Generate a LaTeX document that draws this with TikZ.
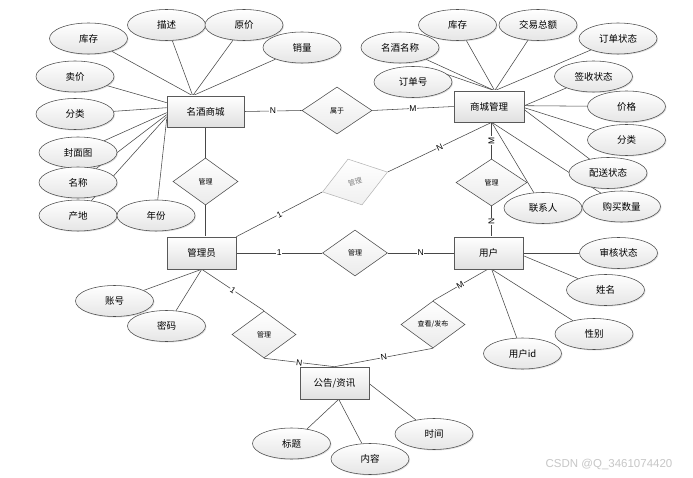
\documentclass[tikz,border=0pt]{standalone}
\usepackage{fontspec}
\setmainfont{Noto Sans CJK SC}
\newfontfamily\latinf{Liberation Sans}
\usetikzlibrary{shapes.geometric,shadows,calc,backgrounds}
\begin{document}
\begin{tikzpicture}[x=1pt,y=-1pt,
  ln/.style={draw=black!72, line width=0.55pt},
  ent/.style={rectangle, draw=black!65, line width=0.6pt, top color=white, bottom color=black!12,
    drop shadow={shadow xshift=1.2pt,shadow yshift=-1.2pt,opacity=0.3},
    minimum width=70pt, minimum height=32pt, inner sep=0pt, font=\fontsize{9.5}{11}\selectfont},
  attr/.style={ellipse, draw=black!70, line width=0.55pt, top color=white, bottom color=black!10,
    drop shadow={shadow xshift=1pt,shadow yshift=-1pt,opacity=0.25},
    minimum width=78pt, minimum height=31pt, inner sep=0pt, font=\fontsize{9.5}{11}\selectfont},
  rel/.style={diamond, draw=black!70, line width=0.55pt, top color=white, bottom color=black!8,
    minimum width=65pt, minimum height=47pt, inner sep=0pt, font=\fontsize{7}{8}\selectfont},
  card/.style={font=\latinf\fontsize{8.5}{9}\selectfont, fill=white, inner sep=0.6pt}]
\useasboundingbox (0,0) rectangle (693,478);

% entities
\node[ent, minimum width=77pt, minimum height=31pt] (mj) at (205.5,111.5) {名酒商城};
\node[ent, minimum height=31pt] (sg) at (489,106.5) {商城管理};
\node[ent, minimum width=69pt] (gly) at (201.5,253) {管理员};
\node[ent, minimum width=69pt] (yh) at (488.5,253) {用户};
\node[ent, minimum width=69pt] (gg) at (334.5,383) {公告/资讯};

% relationships
\node[rel, minimum width=70pt] (r1) at (337,110.5) {属于};
\node[rel] (r2) at (205.5,181.5) {管理};
\node[rel, minimum width=71pt] (r3) at (491.5,182.5) {管理};
\node[rel, minimum height=46pt] (r4) at (355,253) {管理};
\node[rel, minimum width=64pt] (r5) at (264,334.5) {管理};
\node[rel, minimum width=64pt] (r6) at (433,324.5) {查看/发布};
\node[diamond, draw=black!30, line width=0.5pt, top color=white, bottom color=black!6, text=black!50,
  minimum width=68pt, minimum height=48pt, inner sep=0pt, rotate=17, font=\fontsize{7}{8}\selectfont]
  (gd) at (355,182) {管理};

% attributes of 名酒商城
\node[attr] (a1) at (88.5,38.5) {库存};
\node[attr] (a2) at (166.5,25) {描述};
\node[attr] (a3) at (244,25) {原价};
\node[attr] (a4) at (302,47.5) {销量};
\node[attr] (a5) at (75,76.5) {卖价};
\node[attr] (a6) at (75,114) {分类};
\node[attr] (a7) at (78,152.5) {封面图};
\node[attr] (a8) at (78,182.5) {名称};
\node[attr] (a9) at (78,215.5) {产地};
\node[attr] (a10) at (156,215.5) {年份};

% attributes of 商城管理
\node[attr] (b1) at (457.5,25) {库存};
\node[attr] (b2) at (538,25) {交易总额};
\node[attr] (b3) at (400,47.5) {名酒名称};
\node[attr] (b4) at (618,38.5) {订单状态};
\node[attr] (b5) at (413,82) {订单号};
\node[attr] (b6) at (593.5,76.5) {签收状态};
\node[attr] (b7) at (626.5,106.5) {价格};
\node[attr] (b8) at (626.5,140) {分类};
\node[attr] (b9) at (608,173) {配送状态};
\node[attr] (b10) at (621.5,206.5) {购买数量};
\node[attr] (b11) at (543,208) {联系人};

% attributes of 管理员
\node[attr] (c1) at (114.5,301) {账号};
\node[attr] (c2) at (166.5,326) {密码};

% attributes of 用户
\node[attr] (d1) at (618.5,253) {审核状态};
\node[attr] (d2) at (605.5,290) {姓名};
\node[attr] (d3) at (594,334) {性别};
\node[attr] (d4) at (522.5,353.5) {用户id};

% attributes of 公告/资讯
\node[attr] (e1) at (291.5,443.5) {标题};
\node[attr] (e2) at (370,459) {内容};
\node[attr] (e3) at (434,434) {时间};

\node[font=\latinf\fontsize{11.5}{12}\selectfont, text=black!22] (wm) at (609,464) {CSDN @Q\_3461074420};

% connection points
\coordinate (mjT) at ($(mj.north west)+(26,0)$);
\coordinate (mjL1) at ($(mj.north west)+(0,7)$);
\coordinate (mjL2) at ($(mj.north west)+(0,12)$);
\coordinate (mjL3) at ($(mj.north west)+(0,17)$);
\coordinate (mjL4) at ($(mj.north west)+(0,19)$);
\coordinate (mjL5) at ($(mj.north west)+(0,21)$);
\coordinate (mjL6) at ($(mj.north west)+(0,23)$);
\coordinate (sgT) at ($(sg.north west)+(41,0)$);
\coordinate (sgR1) at ($(sg.north east)+(0,15)$);
\coordinate (sgR2) at ($(sg.north east)+(0,17)$);
\coordinate (sgR3) at ($(sg.north east)+(0,19)$);
\coordinate (sgB) at ($(sg.south west)+(38,0)$);
\coordinate (glyB) at ($(gly.south west)+(35,0)$);
\coordinate (yhR) at ($(yh.north east)+(0,19)$);
\coordinate (yhB) at ($(yh.south west)+(38,0)$);
\coordinate (yhB2) at ($(yh.south west)+(34,0)$);
\coordinate (ggB) at ($(gg.south west)+(39,0)$);
\coordinate (ggR) at ($(gg.north east)+(0,17)$);

\begin{scope}[on background layer]
\fill[white] (0,0) rectangle (693,478);
% 名酒商城 attributes
\draw[ln] (a1) -- (mjT);
\draw[ln] (a2) -- (mjT);
\draw[ln] (a3) -- (mjT);
\draw[ln] (a4) -- (mjT);
\draw[ln] (a5) -- (mjL1);
\draw[ln] (a6) -- (mjL2);
\draw[ln] (a7) -- (mjL3);
\draw[ln] (a8) -- (mjL4);
\draw[ln] (a9) -- (mjL5);
\draw[ln] (a10) -- (mjL6);
% 商城管理 attributes
\draw[ln] (b1) -- (sgT);
\draw[ln] (b2) -- (sgT);
\draw[ln] (b3) -- (sgT);
\draw[ln] (b4) -- (sgT);
\draw[ln] (b5.50) -- (sgT);
\draw[ln] (b6) -- (sgR1);
\draw[ln] (b7) -- (sgR1);
\draw[ln] (b8) -- (sgR2);
\draw[ln] (b9) -- (sgR3);
\draw[ln] (b10) -- (sgB);
\draw[ln] (b11) -- (sgB);
% 管理员 attributes
\draw[ln] (c1) -- (glyB);
\draw[ln] (c2) -- (glyB);
% 用户 attributes
\draw[ln] (d1) -- (yh.east);
\draw[ln] (d2) -- (yhR);
\draw[ln] (d3) -- (yhB);
\draw[ln] (d4) -- (yhB);
% 公告/资讯 attributes
\draw[ln] (e1) -- (ggB);
\draw[ln] (e2) -- (ggB);
\draw[ln] (e3) -- (ggR);
% relationships
\draw[ln] (mj.east) -- node[card]{N} (r1.west);
\draw[ln] (r1.east) -- node[card]{M} (sg.west);
\draw[ln] (mj.south) -- (r2.north);
\draw[ln] (r2.south) -- (r2.south |- gly.north);
\draw[ln] (r3.north |- sg.south) -- node[card,rotate=90]{M} (r3.north);
\draw[ln] (r3.south) -- node[card,rotate=90]{N} (r3.south |- yh.north);
\draw[ln] (gly.east) -- node[card]{1} (r4.west);
\draw[ln] (r4.east) -- node[card]{N} (yh.west);
\draw[ln] (gly.north east) -- node[card,sloped]{1} (gd.west);
\draw[ln] (gd.east) -- node[card,sloped]{N} (sgB);
\draw[ln] (glyB) -- node[card,sloped]{1} (r5.north);
\draw[ln] (r5.south) -- node[card,sloped]{N} (gg.north);
\draw[ln] (yhB2) -- node[card,sloped]{M} (r6.north);
\draw[ln] (r6.south) -- node[card,sloped]{N} (gg.north);
\end{scope}
\end{tikzpicture}
\end{document}
